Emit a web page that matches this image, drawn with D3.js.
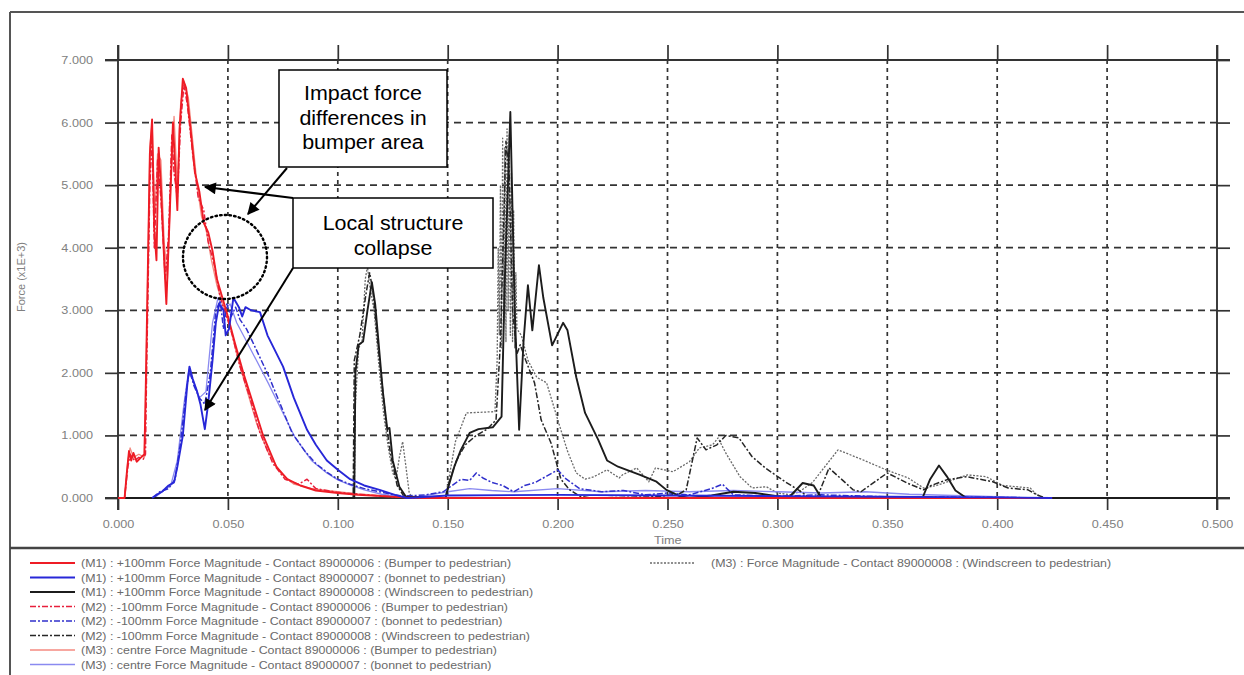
<!DOCTYPE html>
<html><head><meta charset="utf-8">
<script src="https://cdn.jsdelivr.net/npm/d3@7"></script>
<style>html,body{margin:0;padding:0;background:#fff;}svg{display:block;font-family:"Liberation Sans",Arial,sans-serif;}</style>
</head><body><svg id="c" width="1244" height="675"></svg>
<script>
// ---- Data (time in s, force in x1E+3) ----
const xTicks = [0, 0.05, 0.1, 0.15, 0.2, 0.25, 0.3, 0.35, 0.4, 0.45, 0.5];
const xTickLabels = ["0.000","0.050","0.100","0.150","0.200","0.250","0.300","0.350","0.400","0.450","0.500"];
const yTicks = [0, 1, 2, 3, 4, 5, 6, 7];
const yTickLabels = ["0.000","1.000","2.000","3.000","4.000","5.000","6.000","7.000"];

const m1Bumper = [[0,0],[0.003,0],[0.004,0.4],[0.005,0.75],[0.006,0.6],[0.007,0.72],[0.0085,0.58],[0.0105,0.65],[0.012,0.7],[0.0125,1.5],[0.0135,3.5],[0.0145,5.5],[0.0155,6.05],[0.0165,4.3],[0.0175,3.8],[0.0185,5.6],[0.0195,5.0],[0.021,3.8],[0.022,3.1],[0.0235,4.5],[0.025,6.0],[0.026,5.3],[0.027,4.6],[0.028,5.9],[0.0295,6.7],[0.031,6.55],[0.033,5.9],[0.035,5.2],[0.037,4.9],[0.039,4.4],[0.041,4.25],[0.043,3.95],[0.045,3.5],[0.0475,3.2],[0.05,2.9],[0.053,2.5],[0.057,2.0],[0.0615,1.5],[0.066,1.0],[0.072,0.5],[0.077,0.3],[0.083,0.2],[0.09,0.12],[0.1,0.08],[0.109,0.05],[0.12,0.03],[0.13,0.01],[0.14,0],[0.425,0]];
const m1Bonnet = [[0.0155,0],[0.0175,0.05],[0.02,0.1],[0.023,0.2],[0.0255,0.25],[0.027,0.5],[0.0295,1.0],[0.0315,1.8],[0.0325,2.1],[0.034,1.9],[0.036,1.7],[0.0375,1.5],[0.0395,1.1],[0.041,1.5],[0.043,2.2],[0.0445,2.8],[0.046,3.1],[0.048,3.0],[0.049,2.6],[0.0505,2.7],[0.0525,3.2],[0.055,3.05],[0.0565,2.9],[0.058,3.05],[0.0605,3.0],[0.0646,2.97],[0.068,2.6],[0.0751,2.1],[0.08,1.6],[0.086,1.09],[0.09,0.85],[0.095,0.6],[0.1,0.45],[0.1056,0.3],[0.112,0.2],[0.119,0.13],[0.126,0.05],[0.1315,0],[0.15,0.04],[0.2,0.05],[0.25,0.04],[0.3,0.03],[0.35,0.02],[0.4,0.01],[0.425,0]];
const m1Wind = [[0,0],[0.1075,0],[0.108,2.0],[0.1095,2.45],[0.1115,2.5],[0.1135,3.0],[0.1155,3.45],[0.117,3.1],[0.1185,2.5],[0.1205,1.7],[0.1225,1.1],[0.1235,1.12],[0.125,0.6],[0.128,0.18],[0.131,0.02],[0.149,0],[0.1505,0.2],[0.153,0.5],[0.156,0.77],[0.16,1.04],[0.164,1.1],[0.1705,1.13],[0.1745,1.3],[0.176,3.5],[0.1785,6.17],[0.1805,3.0],[0.1825,1.09],[0.1845,2.5],[0.1865,3.4],[0.1885,2.68],[0.1915,3.72],[0.1935,3.2],[0.1975,2.44],[0.2025,2.8],[0.2045,2.68],[0.2085,1.93],[0.2125,1.36],[0.2185,0.93],[0.2225,0.6],[0.2275,0.5],[0.2375,0.37],[0.245,0.26],[0.2495,0.13],[0.2555,0.03],[0.26,0],[0.27,0.04],[0.28,0.1],[0.29,0.08],[0.3,0.03],[0.305,0],[0.3115,0.24],[0.3165,0.2],[0.32,0],[0.366,0],[0.3695,0.3],[0.3735,0.52],[0.377,0.35],[0.381,0.12],[0.386,0],[0.5,0]];
const m2Bumper = [[0,0],[0.003,0],[0.0045,0.5],[0.0055,0.7],[0.0075,0.6],[0.0095,0.65],[0.0115,0.62],[0.0125,0.7],[0.013,2.0],[0.0145,5.0],[0.0155,5.8],[0.0165,4.0],[0.018,5.4],[0.0195,4.8],[0.0215,3.5],[0.023,4.2],[0.0245,5.8],[0.0255,5.2],[0.027,4.8],[0.0285,6.0],[0.03,6.6],[0.0315,6.3],[0.034,5.5],[0.0365,4.8],[0.039,4.6],[0.041,4.1],[0.044,3.7],[0.0465,3.2],[0.049,2.95],[0.052,2.6],[0.0555,2.1],[0.06,1.6],[0.0645,1.05],[0.0705,0.55],[0.076,0.3],[0.082,0.22],[0.086,0.3],[0.09,0.15],[0.1,0.09],[0.11,0.06],[0.12,0.03],[0.135,0]];
const m2Bonnet = [[0.016,0],[0.019,0.1],[0.023,0.15],[0.026,0.3],[0.0285,0.9],[0.031,1.7],[0.0325,2.05],[0.0345,1.8],[0.037,1.6],[0.0395,1.5],[0.042,2.0],[0.0445,3.0],[0.0465,3.15],[0.048,2.7],[0.0495,3.1],[0.0515,2.9],[0.0535,3.05],[0.0555,2.85],[0.0585,2.7],[0.0688,1.93],[0.0792,1.04],[0.085,0.75],[0.09,0.55],[0.0955,0.4],[0.1,0.3],[0.1056,0.22],[0.112,0.15],[0.119,0.1],[0.1255,0.05],[0.13,0.03],[0.14,0.05],[0.148,0.1],[0.152,0.2],[0.156,0.3],[0.16,0.28],[0.163,0.4],[0.166,0.32],[0.17,0.25],[0.175,0.2],[0.18,0.1],[0.185,0.2],[0.19,0.25],[0.195,0.35],[0.2,0.45],[0.204,0.3],[0.21,0.15],[0.22,0.1],[0.23,0.12],[0.24,0.05],[0.25,0.08],[0.26,0.05],[0.27,0.15],[0.275,0.22],[0.28,0.05],[0.3,0.03],[0.32,0.05],[0.35,0.02],[0.4,0.01],[0.425,0]];
const m2Wind = [[0,0],[0.107,0],[0.1075,2.2],[0.11,2.6],[0.113,3.3],[0.1145,3.6],[0.116,3.3],[0.119,2.2],[0.122,1.2],[0.124,0.7],[0.127,0.2],[0.13,0.03],[0.149,0],[0.151,0.3],[0.154,0.6],[0.158,0.85],[0.163,1.0],[0.168,1.1],[0.172,1.25],[0.174,2.5],[0.1765,5.7],[0.178,5.2],[0.1795,3.0],[0.1815,2.3],[0.183,2.45],[0.1855,2.2],[0.1895,1.84],[0.1925,1.25],[0.197,0.88],[0.2015,0.3],[0.2055,0.13],[0.21,0.03],[0.215,0],[0.245,0.02],[0.255,0.06],[0.2585,0.13],[0.2635,0.96],[0.2675,0.77],[0.2725,0.85],[0.2765,1.0],[0.2825,0.96],[0.2885,0.66],[0.2945,0.48],[0.3035,0.26],[0.3095,0.13],[0.314,0.02],[0.318,0],[0.3235,0.48],[0.3345,0.13],[0.338,0.1],[0.35,0.4],[0.359,0.24],[0.3665,0.13],[0.37,0.2],[0.377,0.29],[0.386,0.34],[0.398,0.26],[0.405,0.16],[0.414,0.13],[0.418,0.05],[0.422,0],[0.5,0]];
const m3Bumper = [[0,0],[0.003,0],[0.0045,0.6],[0.0055,0.8],[0.007,0.65],[0.0095,0.7],[0.012,0.65],[0.013,2.5],[0.0145,5.6],[0.0155,6.0],[0.0168,4.5],[0.018,5.5],[0.0195,5.4],[0.021,4.1],[0.0225,3.5],[0.024,5.0],[0.0255,6.1],[0.027,5.0],[0.0285,6.3],[0.03,6.65],[0.032,6.4],[0.034,5.7],[0.036,5.0],[0.038,4.5],[0.04,4.3],[0.0425,3.8],[0.045,3.4],[0.048,3.05],[0.051,2.75],[0.054,2.3],[0.058,1.8],[0.063,1.2],[0.068,0.75],[0.074,0.4],[0.08,0.22],[0.088,0.15],[0.1,0.1],[0.11,0.06],[0.12,0.04],[0.13,0.02],[0.14,0]];
const m3Bonnet = [[0.0165,0],[0.02,0.1],[0.024,0.2],[0.027,0.6],[0.03,1.5],[0.032,2.0],[0.034,1.9],[0.037,1.6],[0.04,1.7],[0.043,2.8],[0.0455,3.2],[0.048,3.0],[0.051,3.1],[0.054,2.8],[0.0575,2.57],[0.0683,1.84],[0.0805,0.97],[0.088,0.6],[0.095,0.4],[0.1,0.29],[0.106,0.2],[0.112,0.13],[0.12,0.06],[0.128,0.02],[0.135,0.01],[0.15,0.1],[0.16,0.15],[0.17,0.12],[0.18,0.1],[0.2,0.15],[0.22,0.1],[0.24,0.12],[0.26,0.1],[0.28,0.12],[0.3,0.1],[0.32,0.08],[0.34,0.1],[0.36,0.06],[0.38,0.04],[0.4,0.02],[0.42,0]];
const m3Wind = [[0.1075,0],[0.108,1.5],[0.1095,2.4],[0.111,2.5],[0.1125,3.5],[0.1135,3.7],[0.1145,3.4],[0.1165,3.0],[0.119,2.0],[0.121,1.3],[0.123,0.8],[0.125,0.4],[0.1265,0.3],[0.128,0.65],[0.1295,0.9],[0.131,0.5],[0.1325,0.08],[0.134,0],[0.149,0],[0.1505,0.3],[0.1535,0.9],[0.1585,1.36],[0.1715,1.38],[0.1725,2.2],[0.173,4.0],[0.1735,2.6],[0.174,5.0],[0.1745,2.4],[0.175,5.75],[0.1755,2.8],[0.176,5.6],[0.1765,2.5],[0.177,5.9],[0.1775,3.0],[0.178,5.8],[0.1785,2.6],[0.179,5.2],[0.1795,2.5],[0.18,4.6],[0.1805,2.4],[0.181,3.6],[0.1815,2.7],[0.1835,2.6],[0.1865,2.2],[0.1905,1.93],[0.195,1.84],[0.2005,1.2],[0.2045,0.75],[0.2085,0.4],[0.2125,0.3],[0.2165,0.34],[0.2225,0.45],[0.228,0.32],[0.2295,0.37],[0.236,0.48],[0.2415,0.26],[0.2445,0.48],[0.2525,0.42],[0.26,0.58],[0.2645,0.8],[0.2705,0.85],[0.273,0.96],[0.2765,0.72],[0.283,0.34],[0.2885,0.16],[0.295,0.18],[0.3,0.08],[0.306,0.05],[0.31,0.1],[0.316,0.25],[0.3276,0.77],[0.3395,0.6],[0.3495,0.45],[0.3595,0.32],[0.3665,0.16],[0.3725,0.2],[0.3865,0.37],[0.395,0.34],[0.4025,0.2],[0.415,0.16],[0.418,0.05],[0.422,0]];

const seriesNames = [
 "(M1) : +100mm Force Magnitude - Contact 89000006 : (Bumper to pedestrian)",
 "(M1) : +100mm Force Magnitude - Contact 89000007 : (bonnet to pedestrian)",
 "(M1) : +100mm Force Magnitude - Contact 89000008 : (Windscreen to pedestrian)",
 "(M2) : -100mm Force Magnitude - Contact 89000006 : (Bumper to pedestrian)",
 "(M2) : -100mm Force Magnitude - Contact 89000007 : (bonnet to pedestrian)",
 "(M2) : -100mm Force Magnitude - Contact 89000008 : (Windscreen to pedestrian)",
 "(M3) : centre Force Magnitude - Contact 89000006 : (Bumper to pedestrian)",
 "(M3) : centre Force Magnitude - Contact 89000007 : (bonnet to pedestrian)",
 "(M3) : Force Magnitude - Contact 89000008 : (Windscreen to pedestrian)"
];
const seriesData = [m1Bumper, m1Bonnet, m1Wind, m2Bumper, m2Bonnet, m2Wind, m3Bumper, m3Bonnet, m3Wind];
const seriesColors = ["#ee1c25","#2727d8","#1c1c1c","#e8203c","#3030cc","#262626","#f48a80","#8a8af0","#6a6a6a"];
const seriesDash = [null,null,null,"6,2,2,2","6,2,2,2","6,2,2,2",null,null,"2,1.5"];
const seriesWidth = [1.9,1.9,1.9,1.5,1.5,1.5,1.3,1.3,1.3];

const annoTop = ["Impact force","differences in","bumper area"];
const annoBottom = ["Local structure","collapse"];

// ---- Drawing ----
const svg = d3.select("#c");
const L = 118, R = 1217, T = 60, B = 498;
const x = d3.scaleLinear().domain([0, 0.5]).range([L, R]);
const y = d3.scaleLinear().domain([0, 7]).range([B, T]);
function stretch(sel, f){ sel.each(function(){ const w = this.getComputedTextLength(); d3.select(this).attr("textLength", w*f).attr("lengthAdjust","spacingAndGlyphs"); }); }

// outer frame
svg.append("line").attr("x1",10).attr("x2",1244).attr("y1",12).attr("y2",12).attr("stroke","#555").attr("stroke-width",2);
svg.append("line").attr("x1",10).attr("x2",10).attr("y1",12).attr("y2",675).attr("stroke","#555").attr("stroke-width",2);
svg.append("line").attr("x1",10).attr("x2",1244).attr("y1",548).attr("y2",548).attr("stroke","#444").attr("stroke-width",2.5);

// grid
const grid = svg.append("g");
grid.selectAll(".gx").data(xTicks.slice(1, -1)).join("line")
  .attr("x1", d => x(d)).attr("x2", d => x(d)).attr("y1", T).attr("y2", B)
  .attr("stroke","#333").attr("stroke-width",1.7).attr("stroke-dasharray","4,4");
grid.selectAll(".gy").data(yTicks.slice(1, -1)).join("line")
  .attr("x1", L).attr("x2", R).attr("y1", d => y(d)).attr("y2", d => y(d))
  .attr("stroke","#333").attr("stroke-width",1.7).attr("stroke-dasharray","7,5");

// axes using d3 axis generators
function styleAxis(g){ g.select(".domain").remove(); g.selectAll("line").attr("stroke","#333").attr("stroke-width",1.7); g.selectAll("text").attr("fill","#808080").attr("font-size",11).attr("font-family","Liberation Sans, Arial, sans-serif"); }
const gxB = svg.append("g").attr("transform",`translate(0,${B})`)
  .call(d3.axisBottom(x).tickValues(xTicks).tickFormat((d,i)=>xTickLabels[i]).tickSizeInner(12).tickPadding(10))
  .call(styleAxis);
stretch(gxB.selectAll("text"), 1.15);
svg.append("g").attr("transform",`translate(0,${T})`)
  .call(d3.axisTop(x).tickValues(xTicks).tickFormat("").tickSizeInner(15))
  .call(styleAxis);
const gyL = svg.append("g").attr("transform",`translate(${L},0)`)
  .call(d3.axisLeft(y).tickValues(yTicks).tickFormat((d,i)=>yTickLabels[i]).tickSizeInner(13).tickPadding(12))
  .call(styleAxis);
stretch(gyL.selectAll("text"), 1.15);
svg.append("g").attr("transform",`translate(${R},0)`)
  .call(d3.axisRight(y).tickValues(yTicks).tickFormat("").tickSizeInner(13))
  .call(styleAxis);
// frame lines
svg.append("line").attr("x1",L-13).attr("x2",R+13).attr("y1",T).attr("y2",T).attr("stroke","#333").attr("stroke-width",1.9);
svg.append("line").attr("x1",L-13).attr("x2",R+13).attr("y1",B).attr("y2",B).attr("stroke","#333").attr("stroke-width",1.9);
svg.append("line").attr("x1",L).attr("x2",L).attr("y1",T-15).attr("y2",B+12).attr("stroke","#333").attr("stroke-width",1.9);
svg.append("line").attr("x1",R).attr("x2",R).attr("y1",T-15).attr("y2",B+12).attr("stroke","#333").attr("stroke-width",1.9);

// axis titles
stretch(svg.append("text").attr("x",654).attr("y",544).attr("font-size",11).attr("fill","#808080").text("Time"), 1.15);
svg.append("text").attr("transform","translate(25,277) rotate(-90)").attr("text-anchor","middle").attr("font-size",11).attr("fill","#808080").text("Force (x1E+3)");

// series
svg.append("clipPath").attr("id","clip").append("rect").attr("x",L).attr("y",T).attr("width",R-L).attr("height",B-T+1);
const line = d3.line().x(d => x(d[0])).y(d => y(d[1]));
const order = [8,6,7,5,3,4,2,0,1];
const sg = svg.append("g").attr("clip-path","url(#clip)");
order.forEach(i => {
  sg.append("path").datum(seriesData[i]).attr("d", line)
    .attr("fill","none").attr("stroke", seriesColors[i]).attr("stroke-width", seriesWidth[i])
    .attr("stroke-dasharray", seriesDash[i]).attr("stroke-linejoin","round");
});

// annotations
const ann = svg.append("g");
ann.append("ellipse").attr("cx",225).attr("cy",257).attr("rx",42).attr("ry",42)
  .attr("fill","none").attr("stroke","#000").attr("stroke-width",2.4).attr("stroke-dasharray","1.5,3.2").attr("stroke-linecap","round");
svg.append("defs").append("marker").attr("id","ah").attr("viewBox","0 0 10 10").attr("refX",9).attr("refY",5)
  .attr("markerWidth",16).attr("markerHeight",12).attr("markerUnits","userSpaceOnUse").attr("orient","auto")
  .append("path").attr("d","M0,0 L10,5 L0,10 Z").attr("fill","#000");
function arrow(x1,y1,x2,y2){ ann.append("line").attr("x1",x1).attr("y1",y1).attr("x2",x2).attr("y2",y2).attr("stroke","#000").attr("stroke-width",2).attr("marker-end","url(#ah)"); }
arrow(287,168,248,214);
arrow(293,198,205,187);
arrow(293,268,205,410);

ann.append("rect").attr("x",279).attr("y",70).attr("width",168).attr("height",97).attr("fill","#fff").attr("stroke","#000").attr("stroke-width",1.5);
annoTop.forEach((s,i)=> stretch(ann.append("text").attr("x",363).attr("y",100+i*24.5).attr("text-anchor","middle").attr("font-size",19.5).attr("fill","#000").text(s), 1.1));
ann.append("rect").attr("x",293).attr("y",198).attr("width",200).attr("height",70).attr("fill","#fff").attr("stroke","#000").attr("stroke-width",1.5);
annoBottom.forEach((s,i)=> stretch(ann.append("text").attr("x",393).attr("y",230+i*24.5).attr("text-anchor","middle").attr("font-size",19.5).attr("fill","#000").text(s), 1.1));

// legend
const lg = svg.append("g");
seriesNames.forEach((name,i)=>{
  const col = i < 8 ? 0 : 1;
  const row = i < 8 ? i : 0;
  const lx = col === 0 ? 30 : 650;
  const tx = col === 0 ? 81 : 711;
  const ly = 563 + row*14.5;
  lg.append("line").attr("x1",lx).attr("x2",lx+45).attr("y1",ly).attr("y2",ly)
    .attr("stroke",seriesColors[i]).attr("stroke-width",seriesWidth[i]).attr("stroke-dasharray",seriesDash[i]);
  stretch(lg.append("text").attr("x",tx).attr("y",ly+4).attr("font-size",10.5).attr("fill","#6a6a6a").text(name), 1.18);
});
</script></body></html>
